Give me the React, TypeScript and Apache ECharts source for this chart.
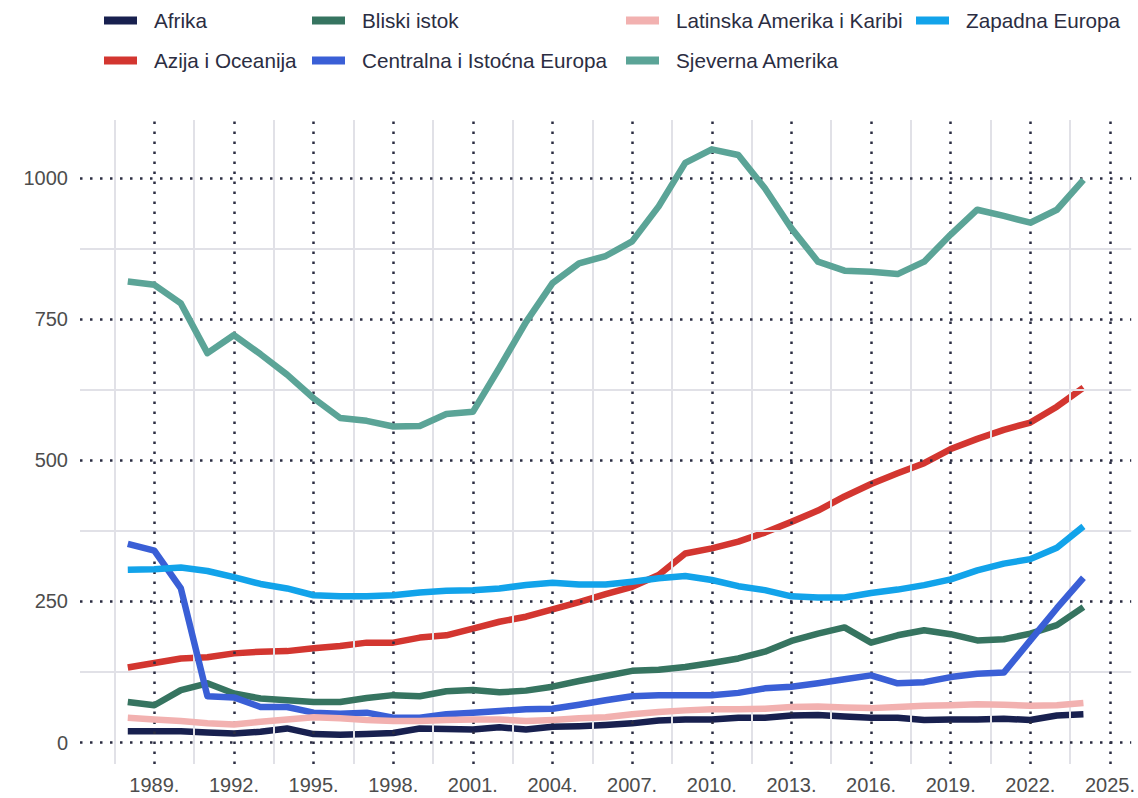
import React, { useEffect, useRef } from "react";
import * as echarts from "echarts";

const years = [
  1988, 1989, 1990, 1991, 1992, 1993, 1994, 1995, 1996, 1997,
  1998, 1999, 2000, 2001, 2002, 2003, 2004, 2005, 2006, 2007,
  2008, 2009, 2010, 2011, 2012, 2013, 2014, 2015, 2016, 2017,
  2018, 2019, 2020, 2021, 2022, 2023, 2024,
];

const afrika = [20, 20, 20, 18, 16, 19, 25, 15, 14, 15, 17, 25, 24, 23, 27, 23, 28, 29, 31, 34, 39, 41, 41, 44, 44, 48, 49, 46, 44, 44, 40, 41, 41, 42, 40, 48, 50];
const azija = [133, 141, 149, 151, 158, 161, 162, 167, 171, 177, 177, 186, 190, 202, 214, 223, 236, 249, 263, 276, 297, 335, 344, 356, 372, 391, 411, 436, 458, 477, 495, 520, 538, 554, 567, 595, 629];
const bliski = [72, 66, 93, 105, 87, 78, 75, 72, 72, 79, 84, 82, 91, 93, 89, 92, 99, 109, 118, 127, 129, 134, 141, 149, 161, 180, 193, 204, 177, 190, 199, 192, 181, 183, 193, 208, 240];
const centralna = [352, 340, 273, 82, 80, 63, 63, 53, 51, 53, 44, 44, 50, 53, 56, 59, 60, 67, 75, 82, 84, 84, 84, 88, 96, 99, 105, 112, 119, 105, 107, 116, 122, 124, 181, 238, 292];
const latinska = [44, 41, 38, 34, 32, 37, 41, 45, 43, 40, 38, 38, 40, 41, 41, 38, 40, 43, 45, 50, 54, 57, 59, 59, 60, 63, 64, 62, 61, 63, 65, 66, 68, 67, 65, 66, 70];
const sjeverna = [817, 811, 778, 690, 722, 688, 652, 610, 575, 570, 560, 561, 582, 586, 664, 745, 814, 849, 862, 888, 950, 1027, 1051, 1041, 982, 911, 852, 836, 834, 830, 852, 900, 944, 933, 921, 944, 997];
const zapadna = [306, 307, 310, 304, 293, 281, 273, 261, 259, 259, 261, 266, 269, 270, 273, 279, 283, 280, 280, 285, 291, 295, 288, 277, 270, 259, 257, 257, 265, 271, 279, 289, 305, 317, 325, 345, 383];

const seriesNames = [
  "Afrika",
  "Azija i Oceanija",
  "Bliski istok",
  "Centralna i Istoćna Europa",
  "Latinska Amerika i Karibi",
  "Sjeverna Amerika",
  "Zapadna Europa",
];
const seriesValues = [afrika, azija, bliski, centralna, latinska, sjeverna, zapadna];
const seriesColors = ["#18204f", "#d33630", "#367460", "#3a5fd6", "#f2b1b0", "#5ba497", "#12a3ea"];

const xTickLabels = [1989, 1992, 1995, 1998, 2001, 2004, 2007, 2010, 2013, 2016, 2019, 2022, 2025];
const xMinorLines = [1987.5, 1990.5, 1993.5, 1996.5, 1999.5, 2002.5, 2005.5, 2008.5, 2011.5, 2014.5, 2017.5, 2020.5, 2023.5];
const yTickLabels = [0, 250, 500, 750, 1000];
const yMinorLines = [125, 375, 625, 875];

// legend layout: [seriesIndex, left, top]
const legendLayout: [number, number, number][] = [
  [0, 104, 10],
  [1, 104, 50],
  [2, 312, 10],
  [3, 312, 50],
  [4, 626, 10],
  [5, 626, 50],
  [6, 916, 10],
];

const FONT = "'Liberation Sans', Arial, Helvetica, sans-serif";

export default function App() {
  const ref = useRef<HTMLDivElement>(null);
  useEffect(() => {
    if (!ref.current) return;
    const chart = echarts.init(ref.current, undefined, { renderer: "svg" });

    const dotted = { type: [2.5, 7.5] as any, width: 2.5, color: "#2b2d42", cap: "butt" as any };
    const solid = { type: "solid" as any, width: 2, color: "#e1e1e7" };

    const gridLines: any[] = [
      ...xMinorLines.map((v) => ({ xAxis: v, lineStyle: solid })),
      ...yMinorLines.map((v) => ({ yAxis: v, lineStyle: solid })),
      ...xTickLabels.map((v) => ({ xAxis: v, lineStyle: dotted })),
      ...yTickLabels.map((v) => ({ yAxis: v, lineStyle: dotted })),
    ];

    const option: any = {
      animation: false,
      backgroundColor: "#ffffff",
      textStyle: { fontFamily: FONT },
      grid: { left: 80, right: 6.6, top: 120, bottom: 34, containLabel: false },
      legend: legendLayout.map(([i, left, top]) => ({
        show: true,
        left,
        top,
        padding: 0,
        itemWidth: 33,
        itemHeight: 8,
        icon: "rect",
        selectedMode: false,
        data: [{ name: seriesNames[i], icon: "rect" }],
        textStyle: {
          fontSize: 20.7,
          color: "#2b2d42",
          fontFamily: FONT,
          padding: [0, 0, 0, 12],
        },
      })),
      xAxis: {
        type: "value",
        min: 1986.2,
        max: 2025.8,
        axisLine: { show: false },
        axisTick: { show: false },
        splitLine: { show: false },
        axisLabel: {
          customValues: xTickLabels,
          formatter: (v: number) => `${v}.`,
          fontSize: 20,
          color: "#4d4d4d",
          margin: 11,
          fontFamily: FONT,
        },
      },
      yAxis: {
        type: "value",
        min: -38,
        max: 1103,
        axisLine: { show: false },
        axisTick: { show: false },
        splitLine: { show: false },
        axisLabel: {
          customValues: yTickLabels,
          formatter: (v: number) => String(v),
          fontSize: 20,
          color: "#4d4d4d",
          margin: 12,
          fontFamily: FONT,
        },
      },
      series: [
        {
          name: "__grid",
          type: "line",
          data: [],
          z: 1,
          silent: true,
          markLine: {
            silent: true,
            symbol: ["none", "none"],
            label: { show: false },
            emphasis: { disabled: true },
            data: gridLines,
          },
        },
        ...seriesNames.map((name, i) => ({
          name,
          type: "line",
          z: 3 + i,
          showSymbol: false,
          symbol: "none",
          data: years.map((y, j) => [y, seriesValues[i][j]]),
          itemStyle: { color: seriesColors[i] },
          lineStyle: { color: seriesColors[i], width: 6.5, cap: "butt", join: "round" },
          emphasis: { disabled: true },
        })),
      ],
    };
    chart.setOption(option);
    return () => chart.dispose();
  }, []);

  return (
    <div
      ref={ref}
      style={{ position: "fixed", left: 0, top: 0, width: 1138, height: 798, background: "#fff" }}
    />
  );
}
